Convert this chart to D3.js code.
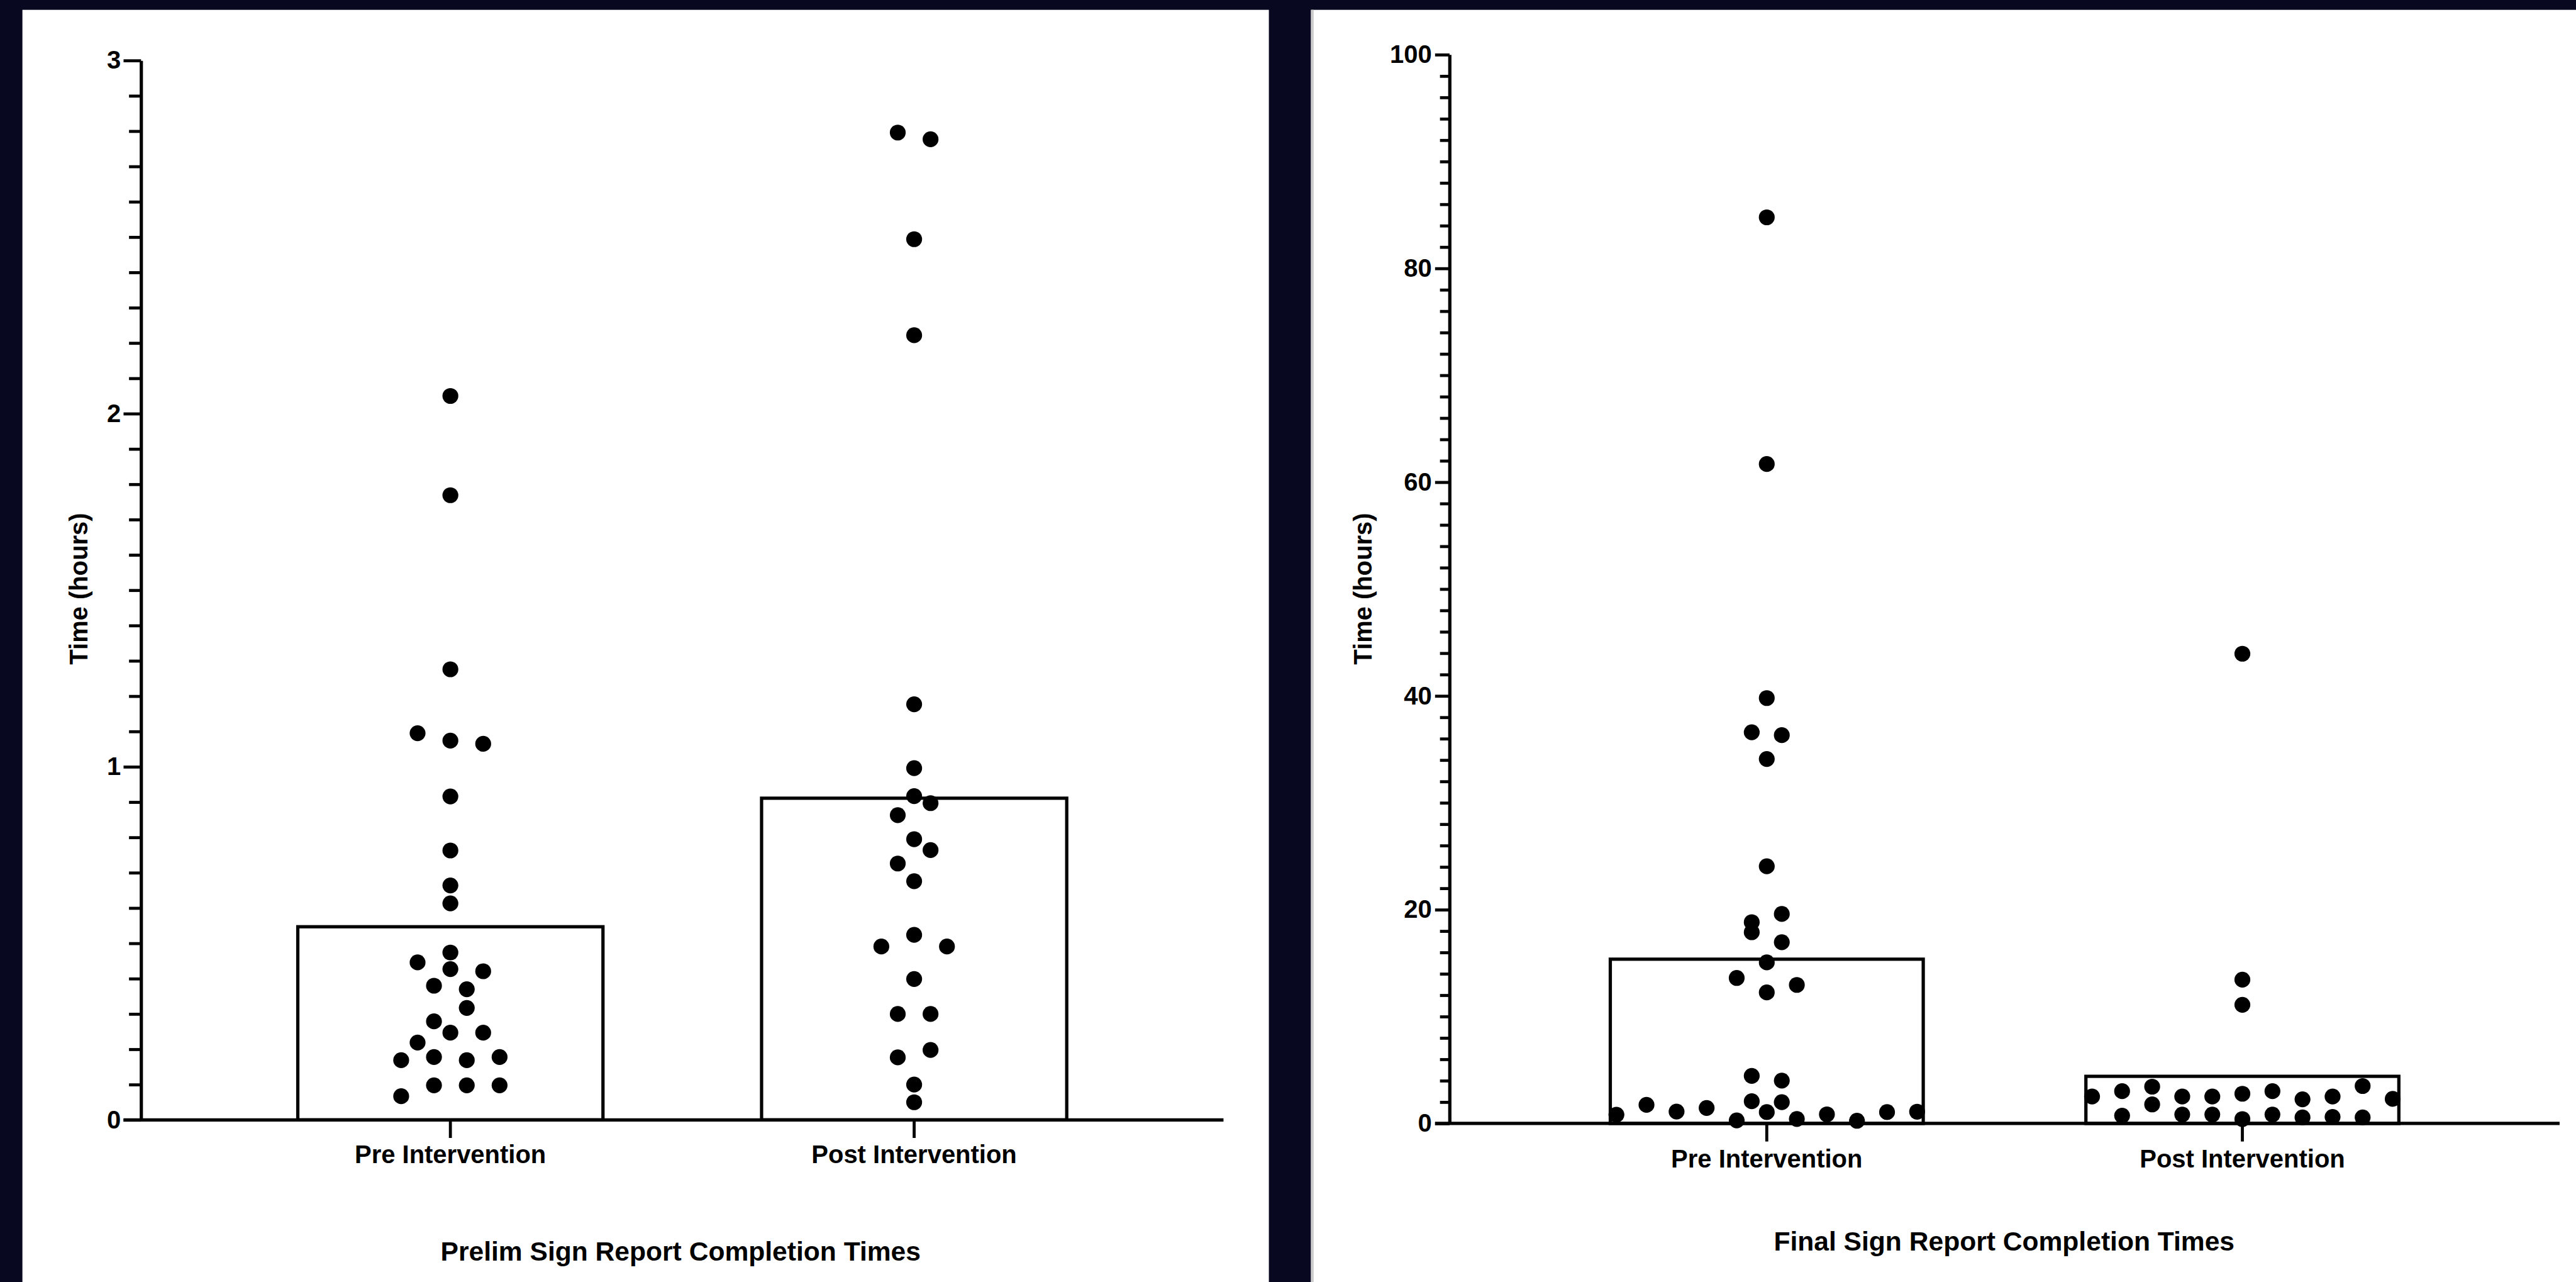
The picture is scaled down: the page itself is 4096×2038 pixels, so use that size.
<!DOCTYPE html>
<html>
<head>
<meta charset="utf-8">
<script src="https://cdn.jsdelivr.net/npm/d3@7"></script>
<style>
html,body{margin:0;padding:0;background:#080920;overflow:hidden}
svg{display:block}
</style>
</head>
<body>
<svg id="chart"></svg>
<script>
// ---------------- DATA ----------------
const categories = ["Pre Intervention", "Post Intervention"];

// Preliminary sign report completion times (hours)
const prelimPre = [0.067, 0.098, 0.098, 0.098, 0.169, 0.178, 0.169, 0.178, 0.219, 0.247, 0.247,
  0.279, 0.317, 0.380, 0.370, 0.446, 0.427, 0.421, 0.474, 0.613, 0.664, 0.763, 0.916,
  1.095, 1.074, 1.065, 1.276, 1.769, 2.050];
const prelimPost = [0.05, 0.10, 0.177, 0.198, 0.300, 0.300, 0.399, 0.491, 0.524, 0.491, 0.676,
  0.726, 0.764, 0.795, 0.863, 0.897, 0.917, 0.996, 1.177, 2.222, 2.494, 2.796, 2.777];
const prelimMeans = [0.547, 0.911];
const prelimTicks = [0, 1, 2, 3];
const prelimTitle = "Prelim Sign Report Completion Times";

// Final sign report completion times (hours)
const finalPre = [0.81, 1.74, 1.11, 1.45, 0.29, 1.06, 0.42, 0.85, 0.25, 1.06, 1.10, 2.08, 1.99,
  4.45, 4.01, 13.61, 12.26, 12.96, 15.07, 17.89, 16.96, 18.83, 19.60, 24.06, 34.10, 36.60,
  36.33, 39.80, 61.70, 84.78];
const finalPost = [0.73, 1.78, 0.83, 0.83, 0.41, 0.83, 0.56, 0.61, 0.56, 2.52, 3.02, 3.44, 2.52,
  2.52, 2.78, 3.02, 2.26, 2.52, 3.50, 2.30, 11.10, 13.45, 43.95];
const finalMeans = [15.37, 4.41];
const finalTicks = [0, 20, 40, 60, 80, 100];
const finalTitle = "Final Sign Report Completion Times";

const yAxisTitle = "Time (hours)";

// ---------------- LAYOUT ----------------
const W = 4712, H = 2345;
const FONT = "'Liberation Sans', Arial, Helvetica, sans-serif";
const svg = d3.select("#chart")
  .attr("width", 4096).attr("height", 2038)
  .attr("viewBox", `0 0 ${W} ${H}`)
  .attr("preserveAspectRatio", "none");

svg.append("rect").attr("x", 0).attr("y", 0).attr("width", W).attr("height", H).attr("fill", "#080920");
svg.append("rect").attr("x", 41).attr("y", 18).attr("width", 2321 - 41).attr("height", H - 18).attr("fill", "#ffffff");
svg.append("rect").attr("x", 2398).attr("y", 18).attr("width", W - 2398).attr("height", H - 18).attr("fill", "#ffffff");
svg.append("rect").attr("x", 2398).attr("y", 18).attr("width", 5).attr("height", H - 18).attr("fill", "#cccccc");

// Prism-like scatter arrangement: points whose positions lie within one row height
// share a row and are spread symmetrically around the category centre.
function arrange(values, y, rowH) {
  const order = values.map((v, i) => i).sort((a, b) => values[a] - values[b] || a - b);
  const rows = [];
  let cur = null;
  order.forEach(i => {
    if (cur && Math.abs(y(values[cur[0]]) - y(values[i])) < rowH) cur.push(i);
    else { cur = [i]; rows.push(cur); }
  });
  const out = [];
  rows.forEach(r => {
    r.sort((a, b) => a - b);
    const n = r.length;
    r.forEach((i, k) => out.push({ v: values[i], k: k - (n - 1) / 2 }));
  });
  return out;
}

function drawPanel(cfg) {
  const x = d3.scaleBand().domain(categories).range([cfg.x0, cfg.x1])
    .paddingInner(0.342).paddingOuter(0.338);
  const y = d3.scaleLinear().domain([0, cfg.yMax]).range([cfg.yBase, cfg.yTop]);
  const g = svg.append("g");

  // bars (means)
  g.selectAll("rect.bar").data(categories).join("rect")
    .attr("class", "bar")
    .attr("x", d => x(d))
    .attr("width", x.bandwidth())
    .attr("y", (d, i) => y(cfg.means[i]))
    .attr("height", (d, i) => y(0) - y(cfg.means[i]))
    .attr("fill", "#ffffff").attr("stroke", "#000").attr("stroke-width", 6);

  // minor ticks
  const minor = d3.range(0, cfg.yMax + cfg.minorStep / 2, cfg.minorStep)
    .filter(v => !cfg.ticks.some(t => Math.abs(t - v) < 1e-9));
  const gm = g.append("g").attr("transform", `translate(${cfg.x0},0)`)
    .call(d3.axisLeft(y).tickValues(minor).tickSize(cfg.minorLen).tickFormat(""));
  gm.select(".domain").remove();
  gm.selectAll("line").attr("stroke", "#000").attr("stroke-width", 5.5);

  // major axis
  const ga = g.append("g").attr("transform", `translate(${cfg.x0},0)`)
    .call(d3.axisLeft(y).tickValues(cfg.ticks).tickSize(cfg.majorLen).tickSizeOuter(0)
      .tickPadding(cfg.labelGap).tickFormat(d3.format("d")));
  ga.attr("font-family", FONT).attr("font-size", 46).attr("font-weight", "bold");
  ga.select(".domain").attr("stroke", "#000").attr("stroke-width", 6);
  ga.selectAll(".tick line").attr("stroke", "#000").attr("stroke-width", 5.5);
  ga.selectAll(".tick text").attr("fill", "#000");

  // x axis baseline
  g.append("line")
    .attr("x1", cfg.x0 - cfg.majorLen).attr("x2", cfg.x1)
    .attr("y1", y(0)).attr("y2", y(0))
    .attr("stroke", "#000").attr("stroke-width", 6);

  // category ticks
  const gx = g.append("g").attr("transform", `translate(0,${y(0)})`)
    .call(d3.axisBottom(x).tickSize(cfg.catTickLen).tickFormat(""));
  gx.select(".domain").remove();
  gx.selectAll("line").attr("stroke", "#000").attr("stroke-width", 5.5);

  // category labels
  g.selectAll("text.cat").data(categories).join("text")
    .attr("class", "cat")
    .attr("x", d => x(d) + x.bandwidth() / 2)
    .attr("y", cfg.catLabelY)
    .attr("text-anchor", "middle")
    .attr("font-family", FONT).attr("font-size", 46).attr("font-weight", "bold")
    .attr("fill", "#000")
    .text(d => d);

  // dots
  cfg.groups.forEach((vals, gi) => {
    const cx = x(categories[gi]) + x.bandwidth() / 2;
    const pts = arrange(vals, y, cfg.rowH);
    g.append("g").selectAll("circle").data(pts).join("circle")
      .attr("cx", d => cx + d.k * cfg.spacing)
      .attr("cy", d => y(d.v))
      .attr("r", 14.5)
      .attr("fill", "#000");
  });

  // chart title (below)
  g.append("text")
    .attr("x", cfg.titleX).attr("y", cfg.titleY)
    .attr("text-anchor", "middle")
    .attr("font-family", FONT).attr("font-size", 49).attr("font-weight", "bold")
    .attr("fill", "#000")
    .text(cfg.title);

  // y axis title
  g.append("text")
    .attr("transform", `translate(${cfg.yTitleX},${cfg.yTitleY}) rotate(-90)`)
    .attr("text-anchor", "middle")
    .attr("font-family", FONT).attr("font-size", 46).attr("font-weight", "bold")
    .attr("fill", "#000")
    .text(yAxisTitle);
}

drawPanel({
  x0: 258, x1: 2238, yBase: 2048.5, yTop: 110.7, yMax: 3,
  ticks: prelimTicks, minorStep: 0.1, majorLen: 32, minorLen: 22, labelGap: 5,
  catTickLen: 33, catLabelY: 2127,
  means: prelimMeans, groups: [prelimPre, prelimPost],
  rowH: 30, spacing: 60,
  title: prelimTitle, titleX: 1245, titleY: 2306,
  yTitleX: 160, yTitleY: 1077
});

drawPanel({
  x0: 2651.5, x1: 4682, yBase: 2055, yTop: 100, yMax: 100,
  ticks: finalTicks, minorStep: 2, majorLen: 26.5, minorLen: 17.5, labelGap: 6,
  catTickLen: 33, catLabelY: 2136,
  means: finalMeans, groups: [finalPre, finalPost],
  rowH: 30, spacing: 55,
  title: finalTitle, titleX: 3666, titleY: 2287,
  yTitleX: 2509, yTitleY: 1077
});
</script>
</body>
</html>
